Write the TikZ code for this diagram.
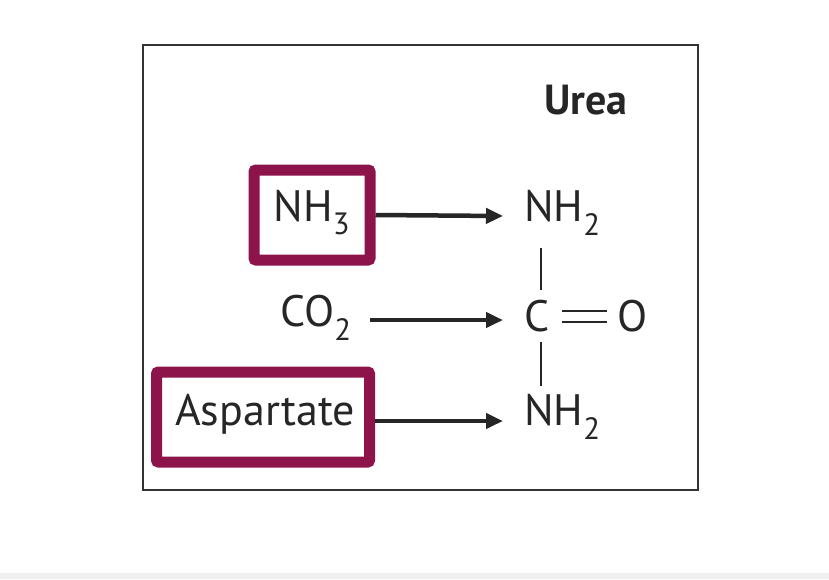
\documentclass[tikz,border=0pt]{standalone}
\usepackage{fontspec}
\setmainfont{PT Sans}
\usetikzlibrary{arrows.meta}
\definecolor{maroon}{RGB}{140,20,75}
\begin{document}
\begin{tikzpicture}[x=1pt,y=-1pt,
  lbl/.style={font=\fontsize{44}{50}\selectfont, inner sep=0pt, text=black!85},
  hl/.style={draw=maroon, line width=11pt, rounded corners=2pt, inner sep=0pt},
  arr/.style={line width=4.5pt, -{Triangle[length=17pt,width=15pt]}, black!85},
  bond/.style={line width=2.5pt, black!85}]
\useasboundingbox (0,0) rectangle (829,579);
\fill[white] (0,0) rectangle (829,579);
\fill[black!6] (0,573) rectangle (829,579);
\draw[line width=2pt, black!80] (143,45) rectangle (698,490);
\node[lbl, font=\fontsize{42}{48}\selectfont\bfseries] (urea) at (586,100) {Urea};
\node[hl, minimum width=116pt, minimum height=90pt] (b1) at (312,215) {};
\node[lbl] (nh3) at (312,213) {NH\textsubscript{3}};
\node[hl, minimum width=213pt, minimum height=90pt] (b2) at (263,417) {};
\node[lbl] (asp) at (265,414) {Aspartate};
\node[lbl] (co2) at (316,318) {CO\textsubscript{2}};
\node[lbl, anchor=west] (n1) at (524,213) {NH\textsubscript{2}};
\node[lbl, anchor=west] (c) at (524,316) {C};
\node[lbl] (o) at (633,316) {O};
\node[lbl, anchor=west] (n2) at (524,417) {NH\textsubscript{2}};
\coordinate (a1) at (503,216);
\coordinate (a2) at (503,320);
\coordinate (a3) at (503,421);
\draw[arr] (b1.east) -- (a1);
\draw[arr] (370,320) -- (a2);
\draw[arr] (b2.east) ++(0,4) -- (a3);
\draw[bond] (541,248) -- (541,290);
\draw[bond] (541,342) -- (541,386);
\draw[bond] (562,311) -- (607,311);
\draw[bond] (562,322) -- (607,322);
\end{tikzpicture}
\end{document}
